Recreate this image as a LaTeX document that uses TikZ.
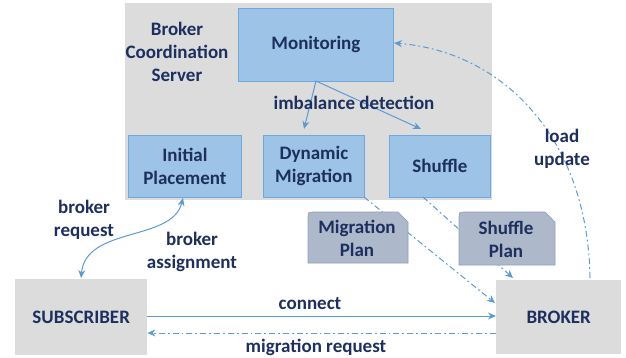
\documentclass[tikz,border=0pt]{standalone}
\usepackage{fontspec}
\setmainfont{Carlito}
\usetikzlibrary{arrows.meta}
\definecolor{txt}{HTML}{1C2F5E}
\definecolor{boxfill}{HTML}{9DC3E6}
\definecolor{boxline}{HTML}{6FA8DC}
\definecolor{panel}{HTML}{DCDCDC}
\definecolor{planfill}{HTML}{ADB9CA}
\definecolor{planline}{HTML}{8FA0B8}
\definecolor{arrowc}{HTML}{5B9BD5}
\tikzset{
  >={Stealth[length=8pt,width=7pt]},
  lbl/.style={text=txt, font=\fontsize{19}{23}\selectfont\bfseries, align=center, inner sep=0pt},
  module/.style={draw=boxline, fill=boxfill, line width=0.8pt, lbl, anchor=north west},
  actor/.style={fill=panel, lbl, anchor=north west},
  flow/.style={draw=arrowc, line width=1pt, ->},
  dashdot/.style={dash pattern=on 6pt off 3pt on 1.8pt off 3pt},
  plan/.style={fill=planfill, draw=planline, line width=0.6pt},
}
\begin{document}
\begin{tikzpicture}[x=1pt,y=-1pt]
\useasboundingbox (0,0) rectangle (626,358);
% coordination server panel
\fill[panel] (125,3) rectangle (492,200);
\node[lbl] (server) at (177,52) {Broker\\Coordination\\Server};
% modules
\node[module, minimum width=155pt, minimum height=73pt] (mon) at (238,8) {Monitoring};
\node[module, minimum width=113pt, minimum height=62pt] (init) at (128,135) {Initial\\Placement};
\node[module, minimum width=101pt, minimum height=62pt] (dyn) at (263,135) {Dynamic\\Migration};
\node[module, minimum width=101pt, minimum height=62pt] (shuf) at (389,135) {Shuffle};
% end points
\node[actor, minimum width=132pt, minimum height=76pt] (sub) at (15,279) {SUBSCRIBER};
\node[actor, minimum width=125pt, minimum height=74pt] (brk) at (496,280) {BROKER};
% monitoring fans out on imbalance
\coordinate (monout) at (316,81);
\coordinate (dynin) at (304,129);
\coordinate (shufin) at (421,129);
\draw[flow] (monout) -- (dynin);
\draw[flow] (monout) -- (shufin);
\node[lbl] (imb) at (354,103) {imbalance detection};
% plans delivered to the broker
\coordinate (dynout) at (364,197);
\coordinate (shufout) at (423,197);
\coordinate (brkin1) at (495,303);
\coordinate (brkin2) at (513,278);
\draw[flow, dashdot] (dynout) -- (brkin1);
\draw[flow, dashdot] (shufout) -- (brkin2);
% plan documents, laid over the arrows
\draw[plan] (308,263) -- (308,218) .. controls (308,212) .. (314,212)
  -- (398,212) -- (408,222) -- (408,263) -- cycle;
\node[lbl] (mplan) at (357,238) {Migration\\Plan};
\draw[plan] (459,265) -- (459,218) .. controls (459,212) .. (465,212)
  -- (545,212) -- (555,222) -- (555,265) -- cycle;
\node[lbl] (splan) at (506,239) {Shuffle\\Plan};
% load reports back to monitoring
\coordinate (brkout) at (590,278);
\coordinate (monin) at (394,43);
\draw[flow, dashdot] (brkout) .. controls (588,140) and (505,52) .. (monin);
\node[lbl] (load) at (562,149) {load\\update};
% subscriber asks for a broker
\coordinate (initout) at (183,198);
\coordinate (subin) at (81,278);
\draw[draw=arrowc, line width=1pt, <->]
  (initout) .. controls (172,242) and (86,226) .. (subin);
\node[lbl] (breq) at (84,220) {broker\\request};
\node[lbl] (bass) at (192,252) {broker\\assignment};
% subscriber / broker exchange
\draw[flow] (sub.east |- 0,316) -- (brk.west |- 0,316);
\node[lbl] (conn) at (310,304) {connect};
\draw[flow, dashdot] (brk.west |- 0,333) -- (sub.east |- 0,333);
\node[lbl] (mreq) at (316,347) {migration request};
\end{tikzpicture}
\end{document}
